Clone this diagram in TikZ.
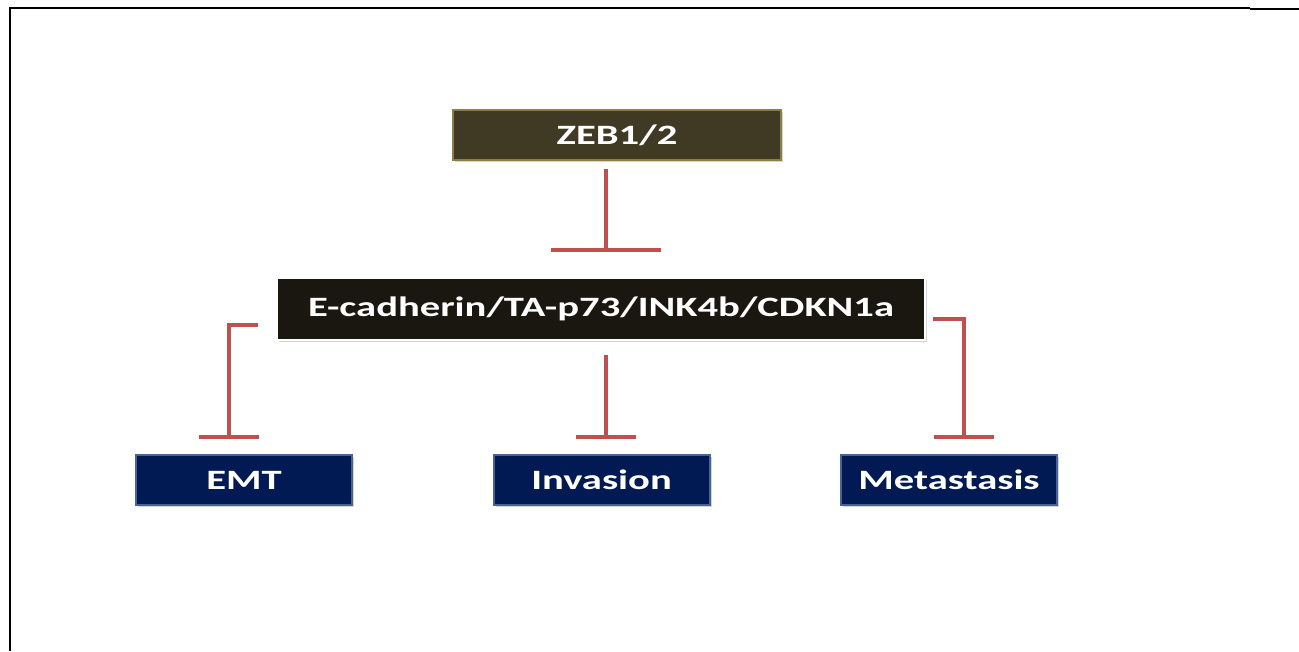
\documentclass[tikz,border=0pt]{standalone}
\usepackage{fontspec}
\setmainfont{Carlito}[FakeStretch=1.45]
\definecolor{inhred}{RGB}{192,80,77}
\definecolor{zebfill}{RGB}{64,58,36}
\definecolor{zebedge}{RGB}{140,125,75}
\definecolor{midfill}{RGB}{26,23,16}
\definecolor{navyfill}{RGB}{2,26,84}
\definecolor{navyedge}{RGB}{72,100,150}
\usetikzlibrary{arrows.meta,positioning,calc,shadows}

\begin{document}
\begin{tikzpicture}[x=0.75pt,y=-0.75pt,
    box/.style={inner sep=0pt,text=white,font=\fontsize{21}{24}\selectfont\bfseries,
                drop shadow={opacity=0.35,shadow xshift=1.5pt,shadow yshift=-1.5pt}},
    zebbox/.style={box,draw=zebedge,line width=1.5pt,fill=zebfill,
                   minimum width=246pt,minimum height=37.5pt},
    midbox/.style={box,draw=white,line width=1.5pt,fill=midfill,
                   minimum width=486pt,minimum height=46.5pt},
    outbox/.style={box,draw=navyedge,line width=1.5pt,fill=navyfill,
                   minimum width=162pt,minimum height=37.5pt},
    inhib/.style={draw=inhred,line width=3pt,-{Bar[width=#1]}},
    inhib/.default=45pt]
  \useasboundingbox (0,0) rectangle (1299,651);
  % frame
  \draw[line width=1.5pt] (10,651) -- (10,8) -- (1250,8);
  \draw[line width=2.2pt] (1250,9) -- (1299,9);

  % boxes
  \node[zebbox] (zeb) at (617,135) {ZEB1/2};
  \node[midbox] (mid) at (601,309) {E-cadherin/TA-p73/INK4b/CDKN1a};
  \node[outbox] (emt) at (244,480) {EMT};
  \node[outbox] (inv) at (601.5,480) {Invasion};
  \node[outbox] (met) at (949,480) {Metastasis};

  % inhibitions
  \draw[inhib=83pt] ($(zeb.south)+(-11,8)$) -- ($(mid.north)+(5,-25)$);
  \draw[inhib] ($(mid.west)+(-18,16)$) -| ($(emt.north)+(-15,-15)$);
  \draw[inhib] ($(mid.south)+(5,14)$) -- ($(inv.north)+(4.5,-15)$);
  \draw[inhib] ($(mid.east)+(7,10)$) -| ($(met.north)+(15,-15)$);
\end{tikzpicture}
\end{document}
